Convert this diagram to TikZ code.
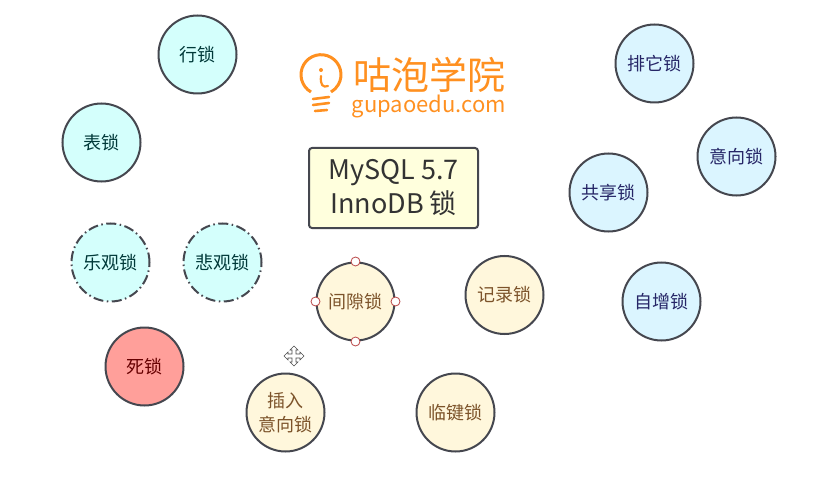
\documentclass[tikz,border=0pt]{standalone}
\usepackage{fontspec}
\setmainfont{Noto Sans CJK SC}
\usetikzlibrary{calc}
\definecolor{edgegray}{HTML}{45474F}
\definecolor{logoorange}{HTML}{FF9020}
\definecolor{cyanfill}{HTML}{D4FFFC}
\definecolor{bluefill}{HTML}{DBF5FF}
\definecolor{creamfill}{HTML}{FFF7DC}
\definecolor{redfill}{HTML}{FF9F9A}
\definecolor{titlefill}{HTML}{FFFFDD}
\tikzset{
lock/.style={circle,draw=edgegray,line width=2pt,minimum size=78pt,inner sep=0pt,align=center,font=\fontsize{18}{24}\selectfont},
tablelock/.style={lock,fill=cyanfill,text=black!55!teal},
optlock/.style={tablelock,dash pattern=on 10pt off 3.5pt on 1.5pt off 3.5pt},
deadlock/.style={lock,fill=redfill,text=red!40!black},
rowlock/.style={lock,fill=creamfill,text=brown!65!black},
intentlock/.style={lock,fill=bluefill,text=blue!30!black!85},
handle/.style={circle,draw=red!45!gray,fill=white,line width=.8pt,minimum size=9pt,inner sep=0pt}
}
\begin{document}
\begin{tikzpicture}[x=1pt,y=-1pt]
\useasboundingbox (0,0) rectangle (832,497);
% logo
\draw[logoorange,line width=3pt] (311,92) arc[start angle=120,end angle=420,radius=20];
\fill[logoorange] (321,70) circle(2pt);
\draw[logoorange,line width=2.2pt,line cap=round] (321,76) .. controls (320,85) and (323,88) .. (328,86);
\draw[logoorange,line width=2.6pt,line cap=round] (313,99) -- (329,97) (313,105) -- (329,103) (315,111) -- (327,110);
\node[text=logoorange,font=\fontsize{38}{38}\selectfont,inner sep=0pt] (logocn) at (429,75) {咕泡学院};
\node[text=logoorange,font=\fontsize{22}{22}\selectfont,inner sep=0pt] (logoen) at (429,106) {gupaoedu.com};
% title
\node[draw=edgegray,fill=titlefill,line width=2pt,rounded corners=3pt,minimum width=169pt,minimum height=80pt,inner sep=0pt,align=center,font=\fontsize{27}{34}\selectfont,text=black!80] (title) at (393.5,188) {MySQL 5.7\\InnoDB 锁};
% lock kinds
\node[tablelock] (row) at (197.5,54.5) {行锁};
\node[tablelock] (table) at (101.5,142.5) {表锁};
\node[optlock] (optimistic) at (110.5,262.5) {乐观锁};
\node[optlock] (pessimistic) at (222.5,262.5) {悲观锁};
\node[deadlock] (dead) at (144.5,366.5) {死锁};
\node[rowlock] (gap) at (355.5,301.5) {间隙锁};
\node[rowlock] (record) at (504.5,295) {记录锁};
\node[rowlock] (insert) at (285.5,412.5) {插入\\意向锁};
\node[rowlock] (nextkey) at (455.5,412.5) {临键锁};
\node[intentlock] (exclusive) at (654.5,63.5) {排它锁};
\node[intentlock] (intent) at (736.5,156.5) {意向锁};
\node[intentlock] (shared) at (608.5,192.5) {共享锁};
\node[intentlock] (autoinc) at (661.5,301.5) {自增锁};
% selection handles
\node[handle] (gapn) at (gap.north) {};
\node[handle] (gape) at (gap.east) {};
\node[handle] (gaps) at (gap.south) {};
\node[handle] (gapw) at (gap.west) {};
% cursor
\draw[black!70,fill=white,line width=.6pt] (294,346) -- (298,350) -- (296,350) -- (296,354) -- (300,354) -- (300,352) -- (304,356) -- (300,360) -- (300,358) -- (296,358) -- (296,362) -- (298,362) -- (294,366) -- (290,362) -- (292,362) -- (292,358) -- (288,358) -- (288,360) -- (284,356) -- (288,352) -- (288,354) -- (292,354) -- (292,350) -- (290,350) -- cycle;
\end{tikzpicture}
\end{document}
